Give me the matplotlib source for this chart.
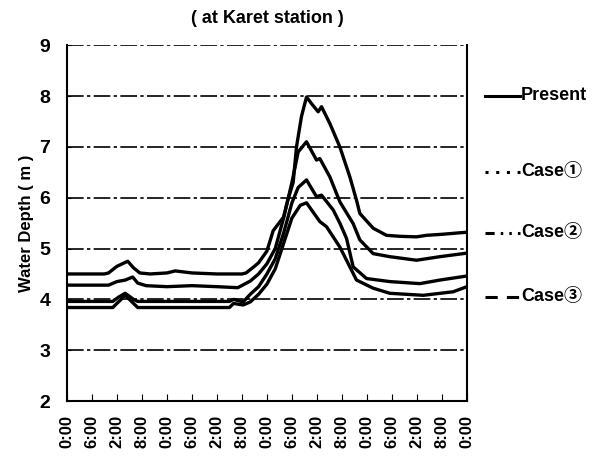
import matplotlib
matplotlib.use("Agg")
import matplotlib.pyplot as plt
from matplotlib.lines import Line2D

plt.rcParams['font.family'] = ['Liberation Sans', 'Noto Sans CJK JP', 'DejaVu Sans']
plt.rcParams['font.weight'] = 'bold'

# hours from start (4 days), water depth in m
present_t = [0, 9, 10, 12, 14.6, 16, 17.5, 20, 24, 26, 30, 36, 42, 43, 45, 46, 48, 49.5, 52, 53, 54.3, 55.1,
             56.3, 57.5, 59, 60.3, 61.1, 63.1, 65.5, 67.9, 69.5, 70.3, 73.5, 76.7, 80, 83.9, 86.3, 90, 94.3, 96]
present_d = [4.5, 4.5, 4.52, 4.65, 4.75, 4.62, 4.52, 4.5, 4.52, 4.56, 4.52, 4.5, 4.5, 4.52, 4.65, 4.72, 4.95, 5.35,
             5.62, 5.95, 6.3, 7.0, 7.6, 7.98, 7.82, 7.69, 7.79, 7.46, 7.0, 6.41, 5.95, 5.69, 5.4, 5.26, 5.24,
             5.23, 5.26, 5.28, 5.31, 5.32]

case1_t = [0, 10, 12, 14, 15.8, 17, 19, 24, 30, 36, 41, 44, 46, 48, 50, 52, 54, 55.5, 57.5, 59.9, 60.7, 63.1,
           65.5, 68.7, 70.3, 73.5, 77.5, 83.9, 89.5, 96]
case1_d = [4.28, 4.28, 4.35, 4.38, 4.44, 4.32, 4.27, 4.25, 4.27, 4.25, 4.23, 4.36, 4.5, 4.7, 5.0, 5.6, 6.3, 6.9,
           7.1, 6.74, 6.77, 6.41, 5.92, 5.49, 5.17, 4.9, 4.84, 4.77, 4.84, 4.91]

case2_t = [0, 11, 12.5, 14, 16, 17, 30, 39, 40, 42.3, 44, 46, 48, 50, 52, 54, 55.5, 57.5, 59.9, 61.1, 63.9,
           65.5, 67.1, 68.7, 71.9, 77.5, 84.7, 89.5, 96]
case2_d = [3.96, 3.96, 4.05, 4.12, 4.0, 3.96, 3.96, 3.96, 4.0, 3.95, 4.1, 4.25, 4.5, 4.8, 5.3, 5.9, 6.2, 6.35,
           6.02, 6.05, 5.76, 5.5, 5.2, 4.64, 4.41, 4.35, 4.31, 4.38, 4.46]

case3_t = [0, 11, 14, 17, 30, 39, 40, 42.3, 44, 46, 48, 50, 52, 54, 56, 57.5, 60.7, 62.3, 65.5, 68.7, 69.5,
           73.5, 77.5, 85.5, 92.7, 96]
case3_d = [3.84, 3.84, 4.08, 3.84, 3.84, 3.84, 3.92, 3.89, 3.95, 4.1, 4.3, 4.6, 5.1, 5.6, 5.85, 5.9, 5.53, 5.43,
           5.03, 4.51, 4.38, 4.22, 4.12, 4.08, 4.15, 4.25]

tick_hours = list(range(0, 97, 6))
tick_labels = ["0:00", "6:00", "2:00", "8:00"] * 4 + ["0:00"]

fig = plt.figure(figsize=(6.08, 4.61), dpi=100)
ax = fig.add_axes([0.110, 0.130, 0.658, 0.772])

for t, d in [(present_t, present_d), (case1_t, case1_d), (case2_t, case2_d), (case3_t, case3_d)]:
    ax.plot(t, d, color='black', lw=2.4, solid_joinstyle='round')

for y in range(3, 10):
    ax.axhline(y, color='black', lw=1.2, ls=(0, (10, 2, 2, 2)))

ax.set_xlim(0, 96)
ax.set_ylim(2, 9)
ax.set_xticks(tick_hours)
ax.set_xticklabels(tick_labels, rotation=90, fontsize=12)
ax.set_yticks(range(2, 10))
ax.tick_params(axis='y', labelsize=14, length=3, direction='in', pad=12)
ax.tick_params(axis='x', length=5, direction='in', pad=10)
ax.spines['top'].set_visible(False)
for s in ['left', 'right', 'bottom']:
    ax.spines[s].set_linewidth(1.5)

ax.set_title("( at Karet station )", fontsize=13, fontweight='bold', pad=16)
ax.set_ylabel("Water Depth ( m )", fontsize=12, fontweight='bold', labelpad=4)

# legend beside the axes
leg = [("Present", '-', 0.792), ("Case①", (0, (1, 2.5)), 0.627),
       ("Case②", (0, (3, 2, 0.8, 2, 0.8, 2)), 0.495), ("Case③", (0, (4, 3)), 0.356)]
for name, ls, yy in leg:
    fig.add_artist(Line2D([0.797, 0.855], [yy, yy], color='black', lw=2.2, ls=ls,
                          transform=fig.transFigure))
    fig.text(0.857, yy, name, fontsize=13, fontweight='bold', va='center', ha='left')

fig.savefig("out.png", dpi=100)
